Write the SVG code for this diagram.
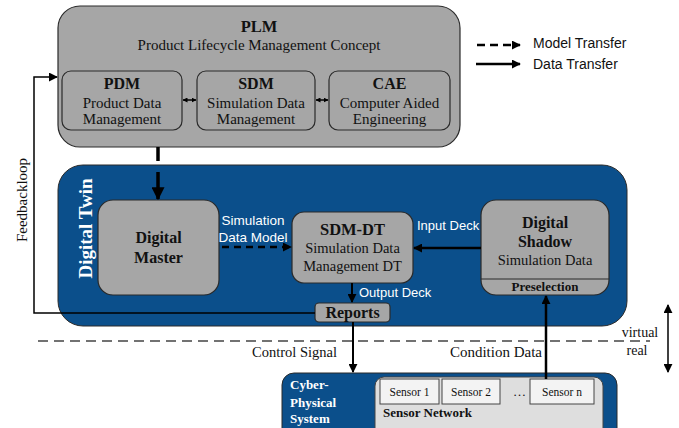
<svg xmlns="http://www.w3.org/2000/svg" width="679" height="428" viewBox="0 0 679 428">
<style>
.gray{fill:#a6a6a6;stroke:#2a2a2a;stroke-width:1.2}
.blue{fill:#0b4f8b;stroke:#2a2a2a;stroke-width:1}
.s{font-family:"Liberation Serif","Times New Roman",serif;fill:#111}
.b{font-weight:bold}
.w{fill:#fff}
.a{font-family:"Liberation Sans",Arial,sans-serif}
.m{text-anchor:middle}
.ln{fill:none;stroke:#000}
.sen{fill:#f3f3f3;stroke:#444;stroke-width:1}
</style>
<defs>
<marker id="ah" viewBox="0 0 10 10" refX="9" refY="5" markerWidth="9" markerHeight="9" orient="auto-start-reverse" markerUnits="userSpaceOnUse"><path d="M0,0L10,5L0,10z" fill="#000"/></marker>
<marker id="big" viewBox="0 0 10 10" refX="9" refY="5" markerWidth="13" markerHeight="13" orient="auto-start-reverse" markerUnits="userSpaceOnUse"><path d="M0,0L10,5L0,10z" fill="#000"/></marker>
<marker id="sm" viewBox="0 0 10 10" refX="9" refY="5" markerWidth="5" markerHeight="5" orient="auto-start-reverse" markerUnits="userSpaceOnUse"><path d="M0,0L10,5L0,10z" fill="#000"/></marker>
</defs>

<g id="plm">
<rect class="gray" x="58" y="6" width="402" height="141" rx="22"/>
<text class="s b m" x="259" y="32" font-size="16.5">PLM</text>
<text class="s m" x="259" y="50" font-size="15">Product Lifecycle Management Concept</text>
</g>
<g id="pdm">
<rect class="gray" x="62" y="71" width="120" height="59" rx="9"/>
<text class="s b m" x="122" y="89" font-size="16">PDM</text>
<text class="s m" x="122" y="108" font-size="15">Product Data</text>
<text class="s m" x="122" y="124" font-size="15">Management</text>
</g>
<g id="sdm">
<rect class="gray" x="197" y="71" width="118" height="59" rx="9"/>
<text class="s b m" x="256" y="89" font-size="16">SDM</text>
<text class="s m" x="256" y="108" font-size="15">Simulation Data</text>
<text class="s m" x="256" y="124" font-size="15">Management</text>
</g>
<g id="cae">
<rect class="gray" x="329" y="71" width="121" height="59" rx="9"/>
<text class="s b m" x="389.5" y="89" font-size="16">CAE</text>
<text class="s m" x="389.5" y="108" font-size="15">Computer Aided</text>
<text class="s m" x="389.5" y="124" font-size="15">Engineering</text>
</g>

<g id="legend">
<line class="ln" x1="477" y1="45" x2="520" y2="45" stroke-width="2.5" stroke-dasharray="8,5" marker-end="url(#ah)"/>
<line class="ln" x1="476" y1="64" x2="520" y2="64" stroke-width="2.5" marker-end="url(#ah)"/>
<text class="a" x="533" y="48" font-size="14" fill="#111">Model Transfer</text>
<text class="a" x="533" y="69" font-size="14" fill="#111">Data Transfer</text>
</g>

<g id="digital-twin">
<rect class="blue" x="58" y="165" width="569" height="161" rx="25"/>
<text class="s b m w" transform="translate(92,228.5) rotate(-90)" font-size="19">Digital Twin</text>
</g>
<g id="digital-master">
<rect class="gray" x="98" y="200" width="121" height="95" rx="15"/>
<text class="s b m" x="158.5" y="243" font-size="16">Digital</text>
<text class="s b m" x="158.5" y="263" font-size="16">Master</text>
</g>
<g id="sdm-dt">
<rect class="gray" x="292" y="212" width="121" height="71" rx="12"/>
<text class="s b m" x="352.5" y="235" font-size="16.5">SDM-DT</text>
<text class="s m" x="352.5" y="253" font-size="14.5">Simulation Data</text>
<text class="s m" x="352.5" y="271" font-size="14.5">Management DT</text>
</g>
<g id="digital-shadow">
<rect class="gray" x="481" y="200" width="128" height="95" rx="15"/>
<line x1="481" y1="279" x2="609" y2="279" stroke="#2a2a2a" stroke-width="1.2"/>
<text class="s b m" x="545" y="228" font-size="16">Digital</text>
<text class="s b m" x="545" y="247" font-size="16">Shadow</text>
<text class="s m" x="545" y="265" font-size="14.5">Simulation Data</text>
<text class="s b m" x="545" y="291" font-size="13">Preselection</text>
</g>
<g id="reports">
<rect class="gray" x="315" y="303" width="75" height="19" rx="4"/>
<text class="s b m" x="352.5" y="318" font-size="16">Reports</text>
</g>

<g id="cps">
<rect class="blue" x="282" y="373" width="335" height="70" rx="12"/>
<text class="s b w" x="290" y="389" font-size="13">Cyber-</text>
<text class="s b w" x="290" y="407" font-size="13">Physical</text>
<text class="s b w" x="290" y="423" font-size="13">System</text>
</g>
<g id="sensor-network">
<rect x="375" y="377" width="228" height="60" rx="9" fill="#dedede" stroke="#444" stroke-width="1"/>
<text class="s b" x="383" y="417" font-size="13">Sensor Network</text>
<text class="s" x="513" y="396" font-size="13">…</text>
</g>
<g id="sensor-1">
<rect class="sen" x="380" y="379" width="59" height="25"/>
<text class="s m" x="409.5" y="396" font-size="11.5">Sensor 1</text>
</g>
<g id="sensor-2">
<rect class="sen" x="442" y="379" width="58" height="25"/>
<text class="s m" x="471" y="396" font-size="11.5">Sensor 2</text>
</g>
<g id="sensor-n">
<rect class="sen" x="530" y="379" width="64" height="25"/>
<text class="s m" x="562" y="396" font-size="11.5">Sensor n</text>
</g>

<g id="connectors">
<line class="ln" x1="158" y1="147" x2="158" y2="161" stroke-width="3.5"/>
<line class="ln" x1="158" y1="172" x2="158" y2="199" stroke-width="3.5" marker-end="url(#big)"/>
<line class="ln" x1="183" y1="100" x2="196" y2="100" stroke-width="1.5" marker-start="url(#sm)" marker-end="url(#sm)"/>
<line class="ln" x1="316" y1="100" x2="328" y2="100" stroke-width="1.5" marker-start="url(#sm)" marker-end="url(#sm)"/>
<line class="ln" x1="222" y1="247" x2="291" y2="247" stroke-width="2.5" stroke-dasharray="7,5" marker-end="url(#ah)"/>
<text class="a m w" x="253" y="225" font-size="13.5">Simulation</text>
<text class="a m w" x="253" y="242" font-size="13.5">Data Model</text>
<line class="ln" x1="481" y1="248" x2="414" y2="248" stroke-width="2.5" marker-end="url(#ah)"/>
<text class="a w" x="417" y="230" font-size="13">Input Deck</text>
<line class="ln" x1="352" y1="283" x2="352" y2="302" stroke-width="2" marker-end="url(#ah)"/>
<text class="a w" x="359" y="297" font-size="13">Output Deck</text>
<polyline class="ln" points="315,313 34,313 34,77 57,77" stroke-width="1.5" marker-end="url(#ah)"/>
<text class="s m" transform="translate(27,200) rotate(-90)" font-size="15">Feedbackloop</text>
<line class="ln" x1="353" y1="322" x2="353" y2="372" stroke-width="2" marker-end="url(#ah)"/>
<text class="s" x="337" y="357" font-size="14.5" text-anchor="end">Control Signal</text>
<line class="ln" x1="546" y1="379" x2="546" y2="296" stroke-width="2.5" marker-end="url(#ah)"/>
<text class="s" x="542" y="357" font-size="15" text-anchor="end">Condition Data</text>
<line x1="38" y1="341" x2="650" y2="341" stroke="#444" stroke-width="1.3" stroke-dasharray="10,6"/>
<text class="s m" x="640" y="337" font-size="14">virtual</text>
<text class="s m" x="637" y="355" font-size="14">real</text>
<line class="ln" x1="668" y1="305" x2="668" y2="372" stroke-width="1.5" marker-start="url(#ah)" marker-end="url(#ah)"/>
</g>
</svg>
